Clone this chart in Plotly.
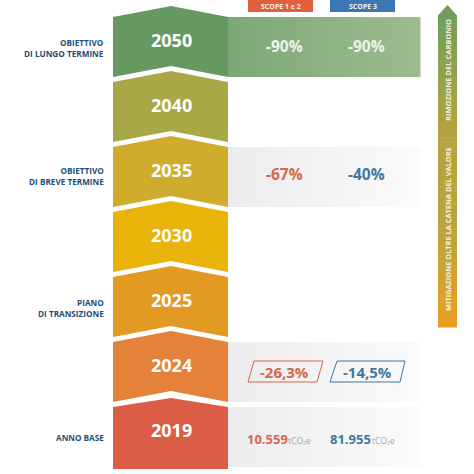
import plotly.graph_objects as go

years = ["2050", "2040", "2035", "2030", "2025", "2024", "2019"]
block_colors = ["#66995f", "#a8a846", "#cfac2c", "#e9b30a", "#e39a23", "#e5823a", "#dc5d45"]
shoulder_tops = [17, 82, 147, 212, 277, 342, 407]
goal_labels = [("OBIETTIVO<br>DI LUNGO TERMINE", 48), ("OBIETTIVO<br>DI BREVE TERMINE", 176),
               ("PIANO<br>DI TRANSIZIONE", 308), ("ANNO BASE", 437)]
scope_headers = ["SCOPE 1 e 2", "SCOPE 3"]
scope1_values = {"2050": "-90%", "2035": "-67%", "2024": "-26,3%"}
scope3_values = {"2050": "-90%", "2035": "-40%", "2024": "-14,5%"}
base_scope1, base_scope3, base_unit = "10.559", "81.955", "tCO₂e"
arrow_top_label, arrow_bottom_label = "RIMOZIONE DEL CARBONIO", "MITIGAZIONE OLTRE LA CATENA DEL VALORE"

RED, BLUE, NAVY, FONT = "#d9654a", "#3f779f", "#1f4e79", "Open Sans"


def lerp(c1, c2, t):
    a = [int(c1[i:i + 2], 16) for i in (1, 3, 5)]
    b = [int(c2[i:i + 2], 16) for i in (1, 3, 5)]
    return "rgb(%d,%d,%d)" % tuple(round(p + (q - p) * t) for p, q in zip(a, b))


fig = go.Figure()
shapes, annots = [], []


def rect(x0, y0, x1, y1, color):
    shapes.append(dict(type="rect", x0=x0, y0=y0, x1=x1, y1=y1, fillcolor=color, line_width=0, layer="below"))


def text(x, y, s, size, color, bold=False, angle=0, align="center", anchor="center"):
    annots.append(dict(x=x, y=y, text=f"<b>{s}</b>" if bold else s, showarrow=False, xanchor=anchor, yanchor="middle",
                       align=align, textangle=angle, font=dict(family=FONT, size=size, color=color)))


# gradient panels behind the rows
for year, top in zip(years, shoulder_tops):
    if year in scope1_values or year == "2019":
        c0, c1 = ("#7da877", "#9dbb8e") if year == "2050" else ("#ececee", "#fbfbfc")
        right = 420
        n = 48
        for i in range(n):
            xa = 228 + (right - 228) * i / n
            xb = 228 + (right - 228) * (i + 1) / n + 0.5
            rect(xa, top, xb, top + 60, lerp(c0, c1, i / (n - 1)))

# chevrons
for i, (year, col, top) in enumerate(zip(years, block_colors, shoulder_tops)):
    xs = [113, 171, 228, 228]
    ys = [top, top - 11, top, top + 60]
    if year == "2019":
        xs = [113, 171, 228, 228, 113]
        ys = [top, top - 9, top, top + 62, top + 62]
    else:
        xs += [171, 113]
        ys += [top + 49, top + 60]
    fig.add_trace(go.Scatter(x=xs + xs[:1], y=ys + ys[:1], mode="lines", fill="toself", fillcolor=col,
                             line=dict(width=0, color=col), hoverinfo="skip", showlegend=False))
    text(171, top + 22.5, year, 18, "white", bold=True)

# headers
for x0, label, col in zip((248, 330), scope_headers, ("#e0603f", "#3a78b5")):
    rect(x0, 0, x0 + 65, 12, col)
    text(x0 + 32.5, 6.5, label, 7, "#f4f0e6", bold=True)

# values
for year, top in zip(years, shoulder_tops):
    if year == "2050":
        text(284, top + 29, scope1_values[year], 15.5, "#eef3e8", bold=True)
        text(366, top + 29, scope3_values[year], 15.5, "#eef3e8", bold=True)
    elif year == "2035":
        text(284, top + 27, scope1_values[year], 15.5, RED, bold=True)
        text(366, top + 27, scope3_values[year], 15.5, BLUE, bold=True)
    elif year == "2024":
        text(284, top + 30, scope1_values[year], 15, RED, bold=True)
        text(367, top + 30, scope3_values[year], 15, BLUE, bold=True)
        for px, py, c in (([248, 254, 323, 317, 248], [382, 361, 361, 382, 382], RED),
                          ([330, 337, 405, 400, 330], [382, 361, 361, 382, 382], BLUE)):
            fig.add_trace(go.Scatter(x=px, y=py, mode="lines", line=dict(width=1, color=c),
                                     hoverinfo="skip", showlegend=False))

text(245, 439, base_scope1, 13, RED, bold=True, anchor="left")
text(286, 440, base_unit, 8.5, "#a2a7ad", anchor="left")
text(328, 439, base_scope3, 13, BLUE, bold=True, anchor="left")
text(370, 440, base_unit, 8.5, "#a2a7ad", anchor="left")

# left labels
for label, y in goal_labels:
    text(106, y, label, 8.2, NAVY, bold=True, align="right", anchor="right")

# right arrow
fig.add_trace(go.Scatter(x=[438, 447.5, 457, 438], y=[15.5, 5, 15.5, 15.5], mode="lines", fill="toself",
                         fillcolor="#6e9e5e", line=dict(width=0), hoverinfo="skip", showlegend=False))
stops = [(15, "#6e9e5e"), (130, "#b5a33f"), (220, "#b9a43f"), (327, "#e8a020")]
for a, b in zip(stops, stops[1:]):
    steps = int((b[0] - a[0]) / 4)
    for k in range(steps):
        ya = a[0] + (b[0] - a[0]) * k / steps
        yb = a[0] + (b[0] - a[0]) * (k + 1) / steps + 0.5
        rect(438, ya, 457, yb, lerp(a[1], b[1], k / steps))
text(448, 70, arrow_top_label, 7.5, "#f5f3df", bold=True, angle=-90)
text(448, 229, arrow_bottom_label, 7.4, "#f5f3df", bold=True, angle=-90)

fig.update_layout(
    width=474, height=474, margin=dict(l=0, r=0, t=0, b=0), paper_bgcolor="white", plot_bgcolor="white",
    shapes=shapes, annotations=annots, showlegend=False,
    xaxis=dict(range=[0, 474], visible=False, fixedrange=True),
    yaxis=dict(range=[474, 0], visible=False, fixedrange=True),
)
fig.write_html("out.html", config=dict(displayModeBar=False),
               post_script="document.body.style.margin='0';document.documentElement.style.overflow='hidden';")
